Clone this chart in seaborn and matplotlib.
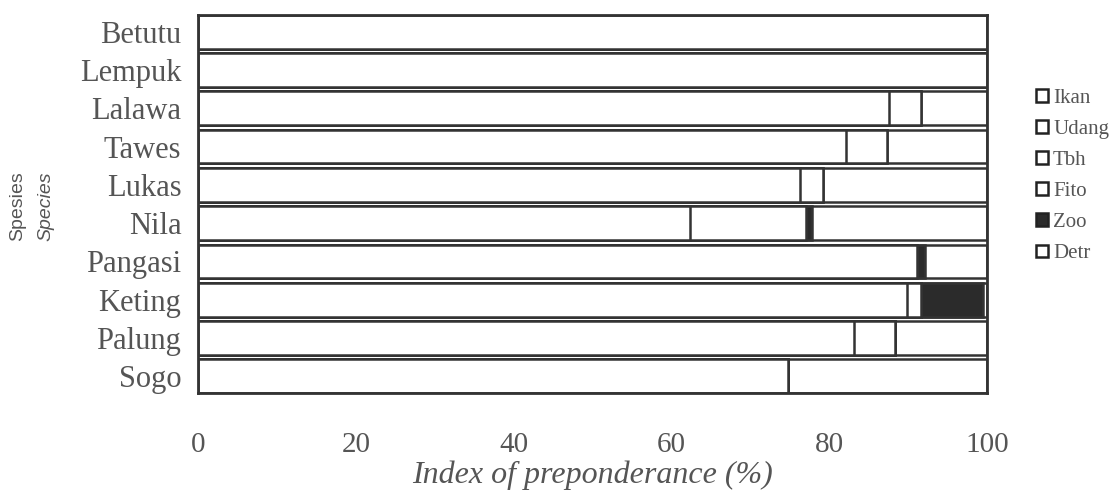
import numpy as np
import pandas as pd
import matplotlib.pyplot as plt
import seaborn as sns
from matplotlib.patches import Patch

# ---------------------------------------------------------------------------
# Data (index of preponderance, %)
# ---------------------------------------------------------------------------
species = ["Betutu", "Lempuk", "Lalawa", "Tawes", "Lukas",
           "Nila", "Pangasi", "Keting", "Palung", "Sogo"]
foods = ["Ikan", "Udang", "Tbh", "Fito", "Zoo", "Detr"]

ikan = [100.0, 100.0, 0.0, 0.0, 0.0, 0.0, 0.0, 89.9, 83.1, 74.8]
udang = [0.0, 0.0, 0.0, 0.0, 0.0, 0.0, 0.0, 1.7, 5.2, 0.0]
tbh = [0.0, 0.0, 87.6, 82.1, 76.3, 62.4, 91.1, 0.0, 0.0, 0.0]
fito = [0.0, 0.0, 4.1, 5.2, 2.9, 14.7, 0.0, 0.0, 0.0, 0.0]
zoo = [0.0, 0.0, 0.0, 0.0, 0.0, 0.7, 1.1, 7.9, 0.0, 0.0]
detr = [0.0, 0.0, 8.3, 12.7, 20.8, 22.2, 7.8, 0.5, 11.7, 25.2]

food_colors = {"Ikan": "white", "Udang": "white", "Tbh": "white",
               "Fito": "white", "Zoo": "#2b2b2b", "Detr": "white"}

df = pd.DataFrame({"species": species, "Ikan": ikan, "Udang": udang,
                   "Tbh": tbh, "Fito": fito, "Zoo": zoo, "Detr": detr})
cum = df[foods].cumsum(axis=1)

# ---------------------------------------------------------------------------
# Style
# ---------------------------------------------------------------------------
sns.set_style("white")
plt.rcParams["font.family"] = ["Liberation Serif", "DejaVu Serif"]
TEXT = "#555555"
EDGE = "#333333"

fig, ax = plt.subplots(figsize=(11.19, 4.97), dpi=100)
fig.subplots_adjust(left=0.177, right=0.882, top=0.970, bottom=0.209)

# stacked bars: draw cumulative totals from the last food group backwards
for food in foods[::-1]:
    plot_df = pd.DataFrame({"species": species, "value": cum[food].values})
    sns.barplot(data=plot_df, x="value", y="species", order=species,
                orient="h", color=food_colors[food], saturation=1,
                edgecolor=EDGE, linewidth=1.8, width=0.88,
                errorbar=None, ax=ax)

ax.set_xlim(0, 100)
ax.set_ylim(9.44, -0.44)
ax.set_xticks([0, 20, 40, 60, 80, 100])
ax.set_xlabel("Index of preponderance (%)", fontsize=23, style="italic",
              color=TEXT, labelpad=2)
ax.set_ylabel("")
ax.tick_params(axis="x", length=0, pad=28, labelsize=21, labelcolor=TEXT)
ax.tick_params(axis="y", length=0, pad=12, labelsize=22, labelcolor=TEXT)
for sp in ax.spines.values():
    sp.set_color(EDGE)
    sp.set_linewidth(2)

# y-axis title in two languages
fig.text(18 / 1119, 1 - 206 / 497, "Spesies", rotation=90, ha="center",
         va="center", fontsize=14, color=TEXT, family="Liberation Sans")
fig.text(46 / 1119, 1 - 206 / 497, "Species", rotation=90, ha="center",
         va="center", fontsize=14, color=TEXT, family="Liberation Sans",
         style="italic")

handles = [Patch(facecolor=food_colors[f], edgecolor="#222222", linewidth=1.8)
           for f in foods]
leg = fig.legend(handles, foods, loc="center left",
                 bbox_to_anchor=(1026 / 1119, 1 - 176 / 497), frameon=False,
                 fontsize=15, handlelength=0.55, handleheight=0.55,
                 handletextpad=0.25, labelspacing=0.58, borderpad=0)
for t in leg.get_texts():
    t.set_color(TEXT)

fig.savefig("out.png", dpi=100)
